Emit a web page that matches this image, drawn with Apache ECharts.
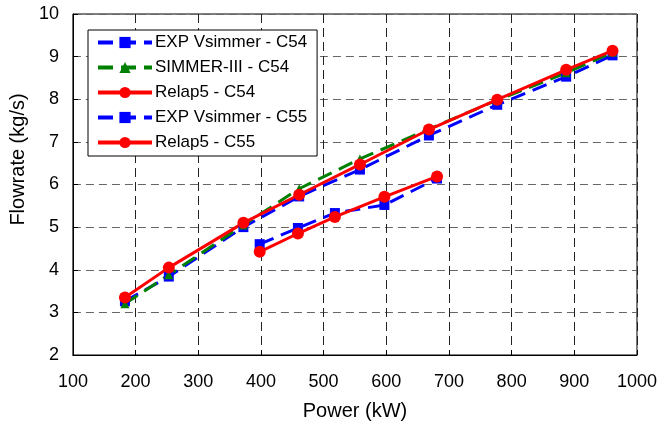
<!DOCTYPE html>
<html>
<head>
<meta charset="utf-8">
<script src="https://cdn.jsdelivr.net/npm/echarts@6/dist/echarts.min.js"></script>
<style>html,body{margin:0;padding:0;background:#fff}#c{width:660px;height:426px}</style>
</head>
<body>
<div id="c"></div>
<script>
const powerC54 = [183, 253, 372, 461, 558, 668, 777, 887, 961];
const expC54 = [3.26, 3.84, 5.0, 5.72, 6.35, 7.15, 7.87, 8.53, 9.03];
const simC54 = [3.2, 3.88, 5.05, 5.9, 6.6, 7.3, 7.98, 8.62, 9.1];
const relapC54 = [3.35, 4.05, 5.10, 5.76, 6.47, 7.29, 7.99, 8.69, 9.14];
const powerC55 = [398, 459, 518, 597, 681];
const expC55 = [4.6, 4.98, 5.33, 5.52, 6.14];
const relapC55 = [4.42, 4.85, 5.24, 5.71, 6.19];
const names = ['EXP Vsimmer - C54', 'SIMMER-III - C54', 'Relap5 - C54', 'EXP Vsimmer - C55', 'Relap5 - C55'];

const pair = (xs, ys) => xs.map((x, i) => [x, ys[i]]);
const FONT = 'Liberation Sans, Arial, sans-serif';

function mk(name, xs, ys, color, symbol, size, dashed) {
  return {
    name, type: 'line', data: pair(xs, ys),
    symbol, symbolSize: size, showSymbol: true,
    itemStyle: {color: color},
    lineStyle: {color: color, width: 3, type: dashed ? [15, 8] : 'solid'},
    animation: false
  };
}

const chart = echarts.init(document.getElementById('c'));
chart.setOption({
  backgroundColor: '#fff',
  animation: false,
  grid: {left: 72, right: 21, top: 14, bottom: 69, show: true, borderColor: '#000', borderWidth: 1, backgroundColor: 'transparent'},
  legend: {
    data: names, orient: 'vertical', left: 88, top: 30,
    itemWidth: 54, itemHeight: 14, itemGap: 8,
    padding: [4, 10, 5, 8],
    borderColor: '#000', borderWidth: 1, borderRadius: 0, backgroundColor: '#fff',
    lineStyle: {width: 4},
    textStyle: {fontFamily: FONT, fontSize: 17, color: '#000', padding: [0, 0, 0, -2]}
  },
  xAxis: {
    type: 'value', min: 100, max: 1000, interval: 100,
    name: 'Power (kW)', nameLocation: 'middle', nameGap: 46,
    nameTextStyle: {fontFamily: FONT, fontSize: 20, color: '#000'},
    axisLine: {show: true, lineStyle: {color: '#000'}},
    axisTick: {show: true, inside: true, length: 5, lineStyle: {color: '#000'}},
    axisLabel: {fontFamily: FONT, fontSize: 18, color: '#000', margin: 18, formatter: v => String(v)},
    splitLine: {show: true, lineStyle: {color: '#222', type: [9, 5], width: 1}}
  },
  yAxis: {
    type: 'value', min: 2, max: 10, interval: 1,
    name: 'Flowrate (kg/s)', nameLocation: 'middle', nameGap: 44,
    nameTextStyle: {fontFamily: FONT, fontSize: 20, color: '#000', padding: [0, 0, 0, 50]},
    axisLine: {show: true, lineStyle: {color: '#000'}},
    axisTick: {show: true, inside: true, length: 5, lineStyle: {color: '#000'}},
    axisLabel: {fontFamily: FONT, fontSize: 18, color: '#000', margin: 14},
    splitLine: {show: true, lineStyle: {color: '#666', type: [8, 5], width: 1}}
  },
  series: [
    mk(names[0], powerC54, expC54, '#0000ff', 'rect', 10, true),
    mk(names[1], powerC54, simC54, '#008000', 'triangle', 9, true),
    mk(names[3], powerC55, expC55, '#0000ff', 'rect', 10, true),
    mk(names[2], powerC54, relapC54, '#ff0000', 'circle', 12, false),
    mk(names[4], powerC55, relapC55, '#ff0000', 'circle', 12, false)
  ]
});
</script>
</body>
</html>
